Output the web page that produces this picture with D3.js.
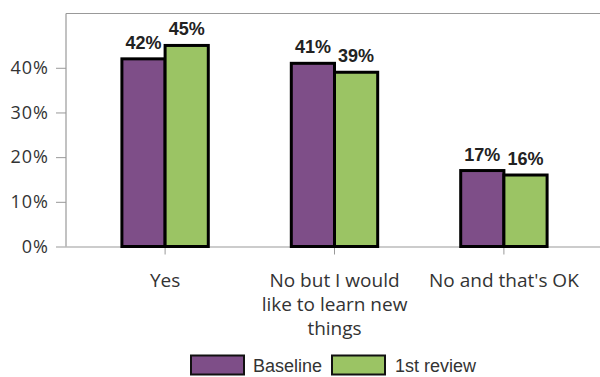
<!DOCTYPE html>
<html><head><meta charset="utf-8">
<script src="https://cdn.jsdelivr.net/npm/d3@7"></script>
<style>body{margin:0;background:#fff}</style>
</head><body>
<script>
const categories = ["Yes", "No but I would like to learn new things", "No and that's OK"];
const categoryLines = [["Yes"], ["No but I would", "like to learn new", "things"], ["No and that's OK"]];
const seriesNames = ["Baseline", "1st review"];
const baseline = [0.42, 0.41, 0.17];
const review1 = [0.45, 0.39, 0.16];
const yTicks = [0, 0.1, 0.2, 0.3, 0.4];
const colors = ["#7e4e88", "#9bc464"];

const W = 600, H = 377;
const svg = d3.select("body").append("svg").attr("width", W).attr("height", H);

const pLeft = 66, pTop = 13.5, pBottom = 246.5, pRight = 603;
const x = d3.scaleBand().domain(categories).range([pLeft, pRight]).paddingInner(0.49).paddingOuter(0.33);
const y = d3.scaleLinear().domain([0, 0.5215]).range([pBottom, pTop]);
const xs = d3.scaleBand().domain(seriesNames).range([0, x.bandwidth()]);

// frame
svg.append("line").attr("x1", pLeft).attr("x2", 700).attr("y1", pTop).attr("y2", pTop).attr("stroke", "#999").attr("stroke-width", 1.2);
svg.append("line").attr("x1", pLeft).attr("x2", pLeft).attr("y1", pTop).attr("y2", pBottom).attr("stroke", "#999").attr("stroke-width", 1.2);

// y axis
const yAxis = svg.append("g").attr("transform", `translate(${pLeft},0)`)
  .call(d3.axisLeft(y).tickValues(yTicks).tickFormat(d3.format(".0%")).tickSize(10).tickPadding(7));
yAxis.select(".domain").remove();
yAxis.selectAll("line").attr("stroke", "#999");
yAxis.selectAll("text").attr("font-family", "Open Sans").attr("font-size", 18).attr("letter-spacing", 1)
  .attr("fill", "#333");

// x axis
const xAxis = svg.append("g").attr("transform", `translate(0,${pBottom})`)
  .call(d3.axisBottom(x).tickSize(8).tickFormat(""));
xAxis.select(".domain").attr("d", `M${pLeft},0.5H700`).attr("stroke", "#999");
xAxis.selectAll("line").attr("stroke", "#999");

categories.forEach((c, i) => {
  const t = svg.append("text").attr("x", x(c) + x.bandwidth() / 2).attr("y", 287)
    .attr("text-anchor", "middle").attr("font-family", "Open Sans").attr("font-size", 19).attr("fill", "#333");
  categoryLines[i].forEach((ln, j) => {
    t.append("tspan").attr("x", x(c) + x.bandwidth() / 2).attr("dy", j === 0 ? 0 : 24).text(ln);
  });
});

const data = [baseline, review1];
const groups = svg.append("g");
data.forEach((vals, s) => {
  groups.selectAll(null).data(categories).enter().append("rect")
    .attr("x", c => x(c) + xs(seriesNames[s]))
    .attr("y", (c, i) => y(vals[i]))
    .attr("width", xs.bandwidth())
    .attr("height", (c, i) => pBottom - y(vals[i]))
    .attr("fill", colors[s]).attr("stroke", "#000").attr("stroke-width", 3);
});
data.forEach((vals, s) => {
  groups.selectAll(null).data(categories).enter().append("text")
    .attr("x", c => x(c) + xs(seriesNames[s]) + xs.bandwidth() / 2)
    .attr("y", (c, i) => y(vals[i]) - 10)
    .attr("text-anchor", "middle").attr("font-family", "Liberation Sans").attr("font-weight", "bold")
    .attr("font-size", 18).attr("fill", "#222")
    .text((c, i) => d3.format(".0%")(vals[i]));
});

// legend
const leg = [{x: 191, tx: 253}, {x: 332, tx: 395}];
seriesNames.forEach((n, i) => {
  svg.append("rect").attr("x", leg[i].x).attr("y", 355.5).attr("width", 53).attr("height", 19)
    .attr("fill", colors[i]).attr("stroke", "#111").attr("stroke-width", 2);
  svg.append("text").attr("x", leg[i].tx).attr("y", 372).attr("font-family", "Liberation Sans")
    .attr("font-size", 18).attr("fill", "#333").text(n);
});
</script>
</body></html>
